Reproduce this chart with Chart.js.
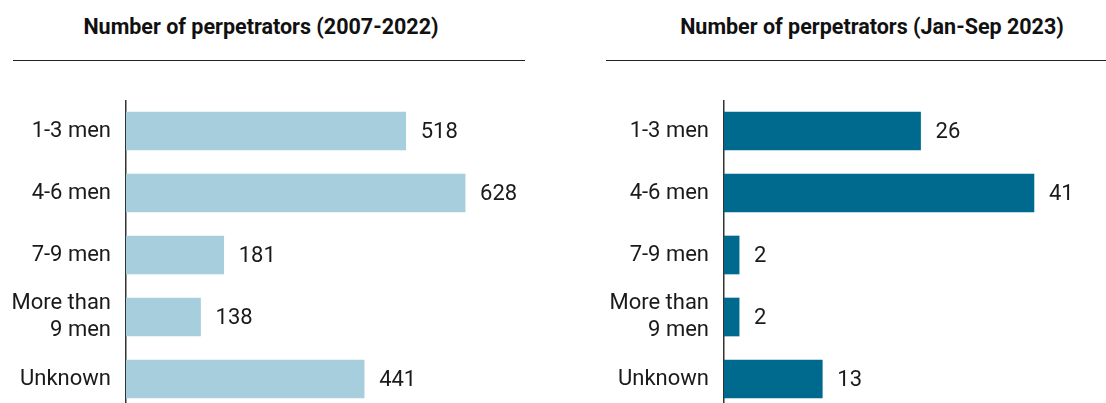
<!DOCTYPE html>
<html>
<head>
<meta charset="utf-8">
<script src="https://cdn.jsdelivr.net/npm/chart.js@4.4.1/dist/chart.umd.min.js"></script>
<style>
    html, body { margin: 0; padding: 0; width: 1106px; height: 403px; overflow: hidden; background: #fff; }
    body { position: relative; font-family: Roboto, sans-serif; color: #111; }
    .title { position: absolute; top: 14px; font-weight: 700; font-size: 21.5px; text-align: center; white-space: nowrap; }
    .rule { position: absolute; top: 60px; height: 0; border-top: 1.5px solid #222; }
    canvas { position: absolute; top: 100px; }
</style>
</head>
<body>
<div class="title" style="left: 61px; width: 400px;">Number of perpetrators (2007-2022)</div>
<div class="rule" style="left: 13px; width: 512px;"></div>
<div class="title" style="left: 672px; width: 400px;">Number of perpetrators (Jan-Sep 2023)</div>
<div class="rule" style="left: 606px; width: 500px;"></div>

<canvas id="chart-left" width="550" height="310" style="left: 0px;"></canvas>
<canvas id="chart-right" width="516" height="310" style="left: 590px;"></canvas>

<script>
const categories = ['1-3 men', '4-6 men', '7-9 men', ['More than', '9 men'], 'Unknown'];
const perpetrators2007to2022 = [518, 628, 181, 138, 441];
const perpetrators2023 = [26, 41, 2, 2, 13];

// value labels at the end of each bar
const valueLabels = {
    id: 'valueLabels',
    afterDatasetsDraw(chart) {
        const ctx = chart.ctx;
        const meta = chart.getDatasetMeta(0);
        const values = chart.data.datasets[0].data;
        ctx.save();
        ctx.font = '22px Roboto';
        ctx.fillStyle = '#1a1a1a';
        ctx.textAlign = 'left';
        ctx.textBaseline = 'middle';
        meta.data.forEach((bar, i) => {
            ctx.fillText(String(values[i]), bar.x + 15, bar.y + 1);
        });
        ctx.restore();
    }
};

function makeChart(id, values, color, max, axisWidth, padRight) {
    const ctx = document.getElementById(id).getContext('2d');
    return new Chart(ctx, {
        type: 'bar',
        data: {
            labels: categories,
            datasets: [{
                data: values,
                backgroundColor: color,
                borderWidth: 0,
                barThickness: 38
            }]
        },
        options: {
            indexAxis: 'y',
            responsive: false,
            animation: false,
            layout: { padding: { top: 0, bottom: 0, left: 0, right: padRight } },
            plugins: {
                legend: { display: false },
                tooltip: { enabled: false }
            },
            scales: {
                x: { display: false, min: 0, max: max },
                y: {
                    grid: { display: false, drawTicks: false },
                    border: { display: true, color: '#333', width: 1.5 },
                    ticks: {
                        color: '#1a1a1a',
                        padding: 15,
                        font: { family: 'Roboto', size: 22, lineHeight: 1.22 }
                    },
                    afterFit(scale) {
                        scale.width = axisWidth;
                        // no extra room for the outer labels, bands fill the canvas
                        scale.paddingTop = 0;
                        scale.paddingBottom = 0;
                    }
                }
            }
        },
        plugins: [valueLabels]
    });
}

makeChart('chart-left', perpetrators2007to2022, '#a6cedc', 700, 126, 46);
makeChart('chart-right', perpetrators2023, '#006a8e', 50, 134, 4);
</script>
</body>
</html>
